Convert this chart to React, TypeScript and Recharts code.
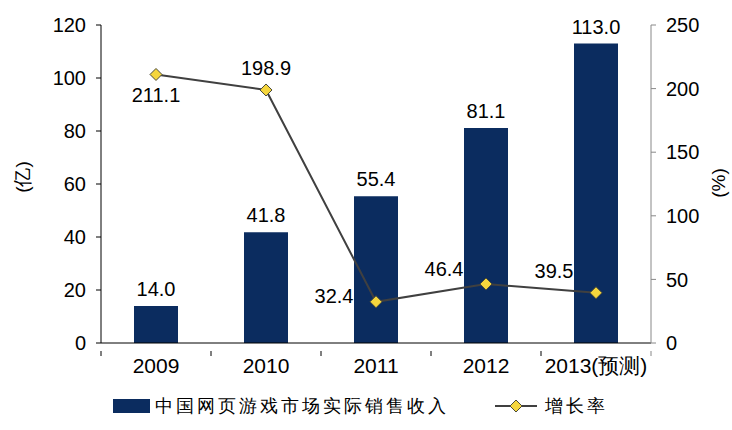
import React from 'react';
import {
  ComposedChart,
  Bar,
  Line,
  XAxis,
  YAxis,
  Legend,
  LabelList,
} from 'recharts';

const years = ['2009', '2010', '2011', '2012', '2013(预测)'];
const revenue = [14.0, 41.8, 55.4, 81.1, 113.0];
const growth = [211.1, 198.9, 32.4, 46.4, 39.5];
const leftTicks = [0, 20, 40, 60, 80, 100, 120];
const rightTicks = [0, 50, 100, 150, 200, 250];

const chartData = years.map((year, i) => ({
  year,
  revenue: revenue[i],
  growth: growth[i],
}));

const FONT = '"Liberation Sans", Arial, sans-serif';
const BAR_COLOR = '#0B2C5F';
const BAND = 110;

// where each growth label sits relative to its point
const growthLabelPos = [
  { dx: 0, dy: 22 },
  { dx: 0, dy: -20 },
  { dx: -42, dy: -4 },
  { dx: -42, dy: -13 },
  { dx: -42, dy: -20 },
];

const Diamond = (props: any) => {
  const { cx, cy } = props;
  if (cx == null || cy == null) return null;
  const r = 6;
  return (
    <path
      d={`M${cx},${cy - r} L${cx + r},${cy} L${cx},${cy + r} L${cx - r},${cy} Z`}
      fill="#F5D63D"
      stroke="#4A4A3A"
      strokeWidth={1}
    />
  );
};

// category label plus tick marks on the category boundaries
const YearTick = (props: any) => {
  const { x, y, payload, index } = props;
  const last = index === years.length - 1;
  return (
    <g>
      <line x1={x - BAND / 2} y1={y} x2={x - BAND / 2} y2={y + 5} stroke="#000" />
      {last && <line x1={x + BAND / 2} y1={y} x2={x + BAND / 2} y2={y + 5} stroke="#888" />}
      <text
        x={x}
        y={y + 16}
        textAnchor="middle"
        dominantBaseline="middle"
        fontFamily={FONT}
        fontSize={21}
        fill="#000"
      >
        {payload.value}
      </text>
    </g>
  );
};

const GrowthLabel = (props: any) => {
  const { x, y, value, index } = props;
  const p = growthLabelPos[index] || { dx: 0, dy: -14 };
  return (
    <text
      x={x + p.dx}
      y={y + p.dy}
      textAnchor="middle"
      dominantBaseline="middle"
      fontFamily={FONT}
      fontSize={20}
      fill="#000"
    >
      {Number(value).toFixed(1)}
    </text>
  );
};

const LegendContent = () => (
  <div style={{ position: 'relative', height: 30, fontFamily: FONT, fontSize: 18, letterSpacing: 3, color: '#000' }}>
    <div style={{ position: 'absolute', left: 113, top: 7, width: 37, height: 14, background: BAR_COLOR }} />
    <span style={{ position: 'absolute', left: 155, top: 2, whiteSpace: 'nowrap' }}>中国网页游戏市场实际销售收入</span>
    <svg style={{ position: 'absolute', left: 495, top: 5 }} width={42} height={18}>
      <line x1={0} y1={9} x2={42} y2={9} stroke="#404040" strokeWidth={2} />
      <path d="M21,3 L27,9 L21,15 L15,9 Z" fill="#F5D63D" stroke="#4A4A3A" strokeWidth={1} />
    </svg>
    <span style={{ position: 'absolute', left: 545, top: 2, whiteSpace: 'nowrap' }}>增长率</span>
  </div>
);

export default function App() {
  return (
    <div style={{ position: 'absolute', left: 0, top: 0, width: 732, height: 430, background: '#fff' }}>
      <ComposedChart
        width={732}
        height={430}
        data={chartData}
        margin={{ top: 25, right: 0, left: 0, bottom: 22 }}
      >
        <XAxis
          dataKey="year"
          height={35}
          axisLine={{ stroke: '#000', strokeWidth: 1 }}
          tickLine={false}
          tick={<YearTick />}
          interval={0}
        />
        <YAxis
          yAxisId="left"
          orientation="left"
          width={101}
          domain={[0, 120]}
          ticks={leftTicks}
          axisLine={{ stroke: '#000' }}
          tickLine={{ stroke: '#000' }}
          tickSize={5}
          tick={{ fontFamily: FONT, fontSize: 20, fill: '#000' }}
          tickMargin={10}
          label={{
            value: '(亿)',
            angle: -90,
            position: 'center',
            dx: -28,
            dy: -7,
            style: { fontFamily: FONT, fontSize: 19, fill: '#000' },
          }}
        />
        <YAxis
          yAxisId="right"
          orientation="right"
          width={81}
          domain={[0, 250]}
          ticks={rightTicks}
          axisLine={{ stroke: '#888' }}
          tickLine={{ stroke: '#888' }}
          tickSize={5}
          tick={{ fontFamily: FONT, fontSize: 20, fill: '#000' }}
          tickMargin={10}
          label={{
            value: '(%)',
            angle: -90,
            position: 'center',
            dx: 27,
            dy: -1,
            style: { fontFamily: FONT, fontSize: 19, fill: '#000' },
          }}
        />
        <Legend
          verticalAlign="bottom"
          height={30}
          wrapperStyle={{ left: 0, top: 392, width: 732 }}
          content={<LegendContent />}
        />
        <Bar
          yAxisId="left"
          dataKey="revenue"
          name="中国网页游戏市场实际销售收入"
          fill={BAR_COLOR}
          barSize={44}
          isAnimationActive={false}
        >
          <LabelList
            dataKey="revenue"
            position="top"
            offset={10}
            formatter={(v: any) => Number(v).toFixed(1)}
            style={{ fontFamily: FONT, fontSize: 20, fill: '#000' }}
          />
        </Bar>
        <Line
          yAxisId="right"
          dataKey="growth"
          name="增长率"
          type="linear"
          stroke="#404040"
          strokeWidth={2}
          dot={<Diamond />}
          activeDot={false}
          isAnimationActive={false}
        >
          <LabelList dataKey="growth" content={<GrowthLabel />} />
        </Line>
        {/* top frame line */}
        <XAxis
          xAxisId="top"
          orientation="top"
          dataKey="year"
          height={0}
          axisLine={{ stroke: '#888' }}
          tick={false}
          tickLine={false}
        />
      </ComposedChart>
    </div>
  );
}
